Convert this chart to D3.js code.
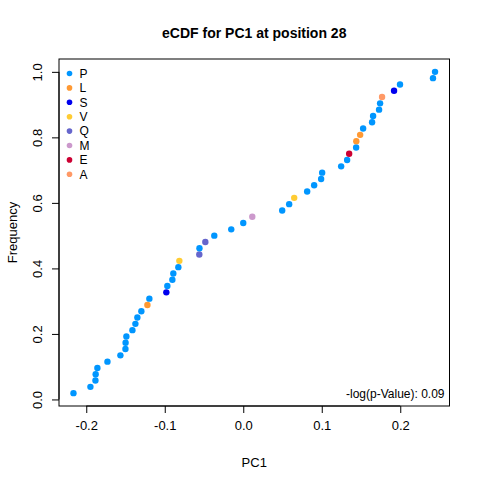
<!DOCTYPE html>
<html>
<head>
<meta charset="utf-8">
<script src="https://cdn.jsdelivr.net/npm/d3@7"></script>
<style>
  body { margin: 0; background: #fff; }
  svg text { font-family: "Liberation Sans", Arial, sans-serif; fill: #000; }
</style>
</head>
<body>
<div id="Results"><svg width="480" height="480"></svg></div>
<script>
// sorted PC1 values, one per sample
var pc1 = [-0.2163, -0.1947, -0.1883, -0.1880, -0.1858, -0.1730, -0.1565, -0.1501, -0.1499, -0.1489,
           -0.1412, -0.1374, -0.1349, -0.1298, -0.1221, -0.1196, -0.0980, -0.0967, -0.0903, -0.0891,
           -0.0827, -0.0814, -0.0560, -0.0558, -0.0483, -0.0369, -0.0153, 0.0000, 0.0115, 0.0496,
           0.0585, 0.0649, 0.0814, 0.0903, 0.0992, 0.1005, 0.1247, 0.1323, 0.1349, 0.1438,
           0.1440, 0.1489, 0.1527, 0.1641, 0.1654, 0.1730, 0.1743, 0.1768, 0.1921, 0.1997,
           0.2417, 0.2443];
// residue at position 28 for each sample (same order)
var residue = ['P','P','P','P','P','P','P','P','P','P',
               'P','P','P','P','L','P','S','P','P','P',
               'P','V','Q','P','Q','P','P','P','M','P',
               'P','V','P','P','P','P','P','P','E','P',
               'L','L','P','P','P','P','P','A','S','P',
               'P','P'];
var residues = ['P', 'L', 'S', 'V', 'Q', 'M', 'E', 'A'];
var residueColors = ['#0096FF', '#FF9933', '#0000EE', '#FFCC33', '#6666CC', '#CC99CC', '#CC0033', '#FF9966'];
var xTicks = [-0.2, -0.1, 0.0, 0.1, 0.2];
var yTicks = [0, 0.2, 0.4, 0.6, 0.8, 1.0];
var pText = '-log(p-Value): 0.09';

var n = pc1.length;
var data = pc1.map(function(v, i) {
  return { x: v, y: (i + 1) / n, res: residue[i] };
});

var svg = d3.select('#Results').select('svg');
var margin = {top: 59, right: 30.5, bottom: 74, left: 59};
var width = 480 - margin.left - margin.right;
var height = 480 - margin.top - margin.bottom;
var fmt = function(d) { return d.toFixed(1); };

// R style 4% padding
var xmin = d3.min(pc1), xmax = d3.max(pc1);
var xpad = (xmax - xmin) * 0.04;
var ymin = 1 / n, ymax = 1;
var ypad = (ymax - ymin) * 0.04;

var g = svg.append('g')
  .attr('transform', 'translate(' + margin.left + ',' + margin.top + ')');

var x = d3.scaleLinear().domain([xmin - xpad, xmax + xpad]).range([0, width]);
var y = d3.scaleLinear().domain([ymin - ypad, ymax + ypad]).range([height, 0]);
var color = d3.scaleOrdinal().domain(residues).range(residueColors);

g.append('rect')
  .attr('width', width).attr('height', height)
  .attr('fill', 'none').attr('stroke', '#000').attr('stroke-width', 1);

var gx = g.append('g')
  .attr('transform', 'translate(0,' + height + ')')
  .call(d3.axisBottom(x).tickValues(xTicks).tickSize(7).tickPadding(8).tickFormat(fmt));
gx.select('.domain').attr('d', 'M' + x(xTicks[0]) + ',0H' + x(xTicks[xTicks.length - 1]));
gx.selectAll('text').attr('font-size', 13);

var gy = g.append('g')
  .call(d3.axisLeft(y).tickValues(yTicks).tickSize(7).tickFormat(fmt));
gy.select('.domain').attr('d', 'M0,' + y(0) + 'V' + y(1));
gy.selectAll('text')
  .attr('font-size', 13)
  .attr('x', 0).attr('y', -17).attr('dy', null)
  .attr('transform', 'rotate(-90)')
  .style('text-anchor', 'middle');

g.selectAll('.pt')
  .data(data)
  .enter().append('circle')
  .attr('class', 'pt')
  .attr('cx', function(d) { return x(d.x); })
  .attr('cy', function(d) { return y(d.y); })
  .attr('r', 3.2)
  .attr('fill', function(d) { return color(d.res); });

// legend
var lg = g.append('g').attr('transform', 'translate(10.5,14.5)');
lg.selectAll('circle')
  .data(residues)
  .enter().append('circle')
  .attr('cx', 0)
  .attr('cy', function(d, i) { return i * 14.4; })
  .attr('r', 2.8)
  .attr('fill', function(d) { return color(d); });
lg.selectAll('text')
  .data(residues)
  .enter().append('text')
  .attr('x', 10)
  .attr('y', function(d, i) { return i * 14.4; })
  .attr('dy', '0.36em')
  .attr('font-size', 12)
  .text(function(d) { return d; });

g.append('text')
  .attr('x', width - 5).attr('y', height - 8)
  .attr('text-anchor', 'end')
  .attr('font-size', 12)
  .text(pText);

svg.append('text')
  .attr('x', margin.left + width / 2).attr('y', 38)
  .attr('text-anchor', 'middle')
  .attr('font-size', 14).attr('font-weight', 'bold')
  .text('eCDF for PC1 at position 28');

svg.append('text')
  .attr('x', margin.left + width / 2).attr('y', 467)
  .attr('text-anchor', 'middle')
  .attr('font-size', 13)
  .text('PC1');

svg.append('text')
  .attr('transform', 'translate(17,' + (margin.top + height / 2) + ') rotate(-90)')
  .attr('text-anchor', 'middle')
  .attr('font-size', 13)
  .text('Frequency');
</script>
</body>
</html>
